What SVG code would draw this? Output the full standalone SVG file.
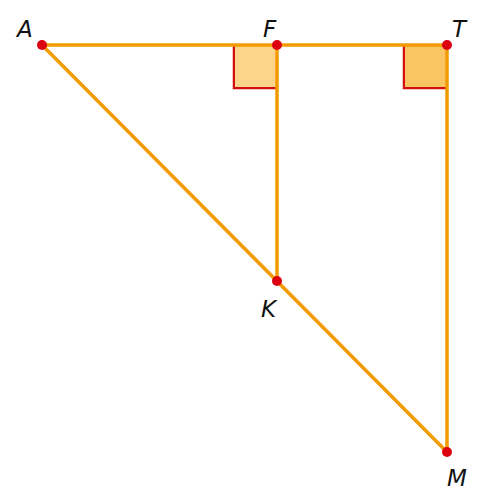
<svg xmlns="http://www.w3.org/2000/svg" width="500" height="500" viewBox="0 0 500 500">
<style>
.sq{stroke:#d40f0f;stroke-width:2.5}
.ln{stroke:#f39a00;stroke-width:3.5;fill:none;stroke-linecap:round}
.pt{fill:#dd0011}
.lb{font-family:"DejaVu Sans",sans-serif;font-style:italic;font-size:23px;fill:#111}
</style>
<rect width="500" height="500" fill="#fff"/>
<g id="angles">
<path class="sq" d="M234,46 V88 H276" fill="none"/>
<rect x="235" y="46" width="41" height="41" fill="#fdd58a"/>
<path class="sq" d="M404,46 V88 H446" fill="none"/>
<rect x="405" y="46" width="41" height="41" fill="#f9c563"/>
</g>
<g id="connectors">
<line class="ln" x1="42" y1="45" x2="447" y2="45"/>
<line class="ln" x1="42" y1="45" x2="447" y2="452"/>
<line class="ln" x1="277" y1="45" x2="277" y2="281"/>
<line class="ln" x1="447" y1="45" x2="447" y2="452"/>
</g>
<g id="A"><circle class="pt" cx="42" cy="45" r="5"/><text class="lb" x="17" y="37">A</text></g>
<g id="F"><circle class="pt" cx="277" cy="45" r="5"/><text class="lb" x="263" y="37">F</text></g>
<g id="T"><circle class="pt" cx="447" cy="45" r="5"/><text class="lb" x="452" y="37">T</text></g>
<g id="K"><circle class="pt" cx="277" cy="281" r="5"/><text class="lb" x="261" y="317">K</text></g>
<g id="M"><circle class="pt" cx="447" cy="452" r="5"/><text class="lb" x="447" y="486">M</text></g>
</svg>
